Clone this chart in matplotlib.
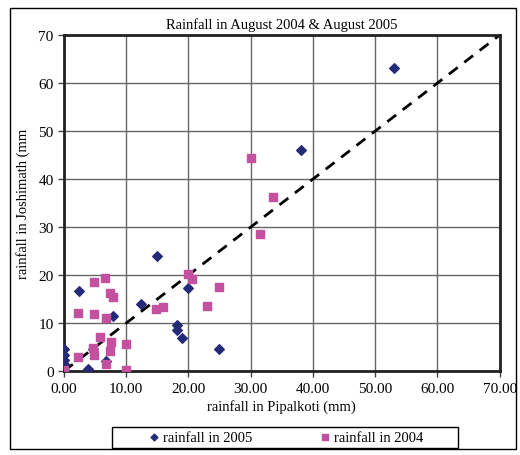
import matplotlib.pyplot as plt
import matplotlib.patches as patches

plt.rcParams['font.family'] = ['Liberation Serif', 'DejaVu Serif']

# rainfall in 2005 (Pipalkoti, Joshimath)
x2005 = [53.0, 38.0, 15.0, 2.4, 12.4, 7.9, 20.0, 18.1, 18.1, 19.0, 24.9,
         0.0, 0.0, 0.0, 0.0, 0.0, 3.9, 6.8, 4.7]
y2005 = [63.1, 46.0, 24.0, 16.7, 14.0, 11.4, 17.4, 9.6, 8.6, 6.9, 4.6,
         4.5, 3.4, 2.4, 1.4, 0.3, 0.4, 2.1, 4.6]

# rainfall in 2004
x2004 = [30.0, 33.5, 31.5, 20.0, 20.5, 24.9, 23.0, 14.8, 15.9, 6.6, 4.9,
         7.4, 7.8, 2.3, 4.9, 6.8, 5.8, 7.5, 10.0, 4.7, 7.4, 4.9, 2.3,
         6.8, 0.0, 10.0]
y2004 = [44.4, 36.3, 28.6, 20.2, 19.2, 17.6, 13.6, 12.9, 13.3, 19.4, 18.6,
         16.3, 15.4, 12.1, 11.8, 11.0, 7.0, 6.0, 5.6, 4.8, 4.1, 3.4, 3.0,
         1.5, 0.2, 0.2]

ticks = [0, 10, 20, 30, 40, 50, 60, 70]

fig = plt.figure(figsize=(5.2, 4.56), dpi=100)
ax = fig.add_axes([0.123, 0.184, 0.838, 0.737])

# outer chart border
fig.patches.append(patches.Rectangle((0.019, 0.013), 0.973, 0.968, transform=fig.transFigure,
                                     fill=False, edgecolor='black', linewidth=1.0))
# legend box
fig.patches.append(patches.Rectangle((0.215, 0.016), 0.665, 0.046, transform=fig.transFigure,
                                     fill=False, edgecolor='black', linewidth=1.0))

ax.plot([0, 70], [0, 70], color='black', linestyle=(0, (4, 3)), linewidth=2, zorder=2)
ax.scatter(x2005, y2005, marker='D', s=24, color='#232A78', label='rainfall in 2005', zorder=3)
ax.scatter(x2004, y2004, marker='s', s=32, color='#C4519F', label='rainfall in 2004', zorder=3)

ax.set_xlim(0, 70)
ax.set_ylim(0, 70)
ax.set_xticks(ticks)
ax.set_yticks(ticks)
ax.set_xticklabels(['%.2f' % t for t in ticks])
ax.tick_params(labelsize=11, length=4, width=1, color='#444444')
ax.grid(True, color='#666666', linewidth=1)
ax.set_axisbelow(True)
for s in ax.spines.values():
    s.set_linewidth(2)
    s.set_color('#222222')

ax.set_title('Rainfall in August 2004 & August 2005', fontsize=10.5, pad=5)
ax.set_xlabel('rainfall in Pipalkoti (mm)', fontsize=10.5, labelpad=3)
ax.set_ylabel('rainfall in Joshimath (mm', fontsize=10.5, labelpad=6)

leg = fig.legend(loc='center', bbox_to_anchor=(0.548, 0.039), ncol=2, fontsize=10.5,
                 frameon=False, markerscale=0.7, handletextpad=0.1, handlelength=1.0,
                 columnspacing=4.5, borderpad=0.25)

fig.savefig('out.png', dpi=100)
